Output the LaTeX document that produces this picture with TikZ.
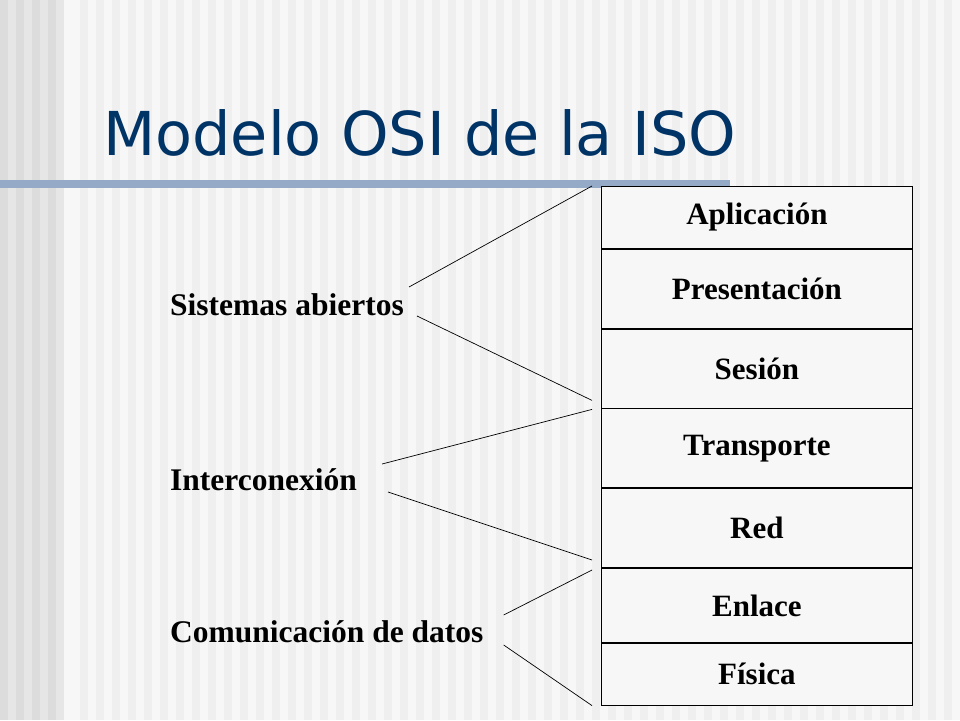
\documentclass[tikz,border=0pt]{standalone}
\usepackage{fontspec}
\setmainfont{Liberation Serif}
\newfontfamily\titlefont{DejaVu Sans}
\definecolor{stA}{HTML}{DCDCDC}
\definecolor{stB}{HTML}{E6E6E6}
\definecolor{stC}{HTML}{EFEFEF}
\definecolor{stD}{HTML}{F7F7F7}
\definecolor{titleblue}{HTML}{003366}
\definecolor{barblue}{HTML}{94AAC6}
\begin{document}
\begin{tikzpicture}[x=1pt,y=-1pt,
  layer/.style={draw=black,line width=0.8pt,fill=stD,minimum width=311pt,inner sep=0pt,font=\bfseries\fontsize{31}{34}\selectfont},
  grp/.style={anchor=west,inner sep=0pt,font=\bfseries\fontsize{31.5}{34}\selectfont},
  lnk/.style={line width=0.7pt}]
\useasboundingbox (0,0) rectangle (960,720);
\fill[stD] (0,0) rectangle (960,720);
\foreach \i in {0,16,...,56} {\fill[stA] (\i,0) rectangle (\i+8,720); \fill[stB] (\i+8,0) rectangle (\i+16,720);}
\foreach \i in {72,88,...,952} {\fill[stC] (\i+8,0) rectangle (\i+16,720);}
\fill[barblue] (0,180) rectangle (730,188);
\node[anchor=west,inner sep=0pt,text=titleblue,font=\titlefont\fontsize{60.5}{66}\selectfont] (title) at (103,133) {Modelo OSI de la ISO};
\node[layer,minimum height=62pt,anchor=north west] (apl) at (601,186) {Aplicación};
\node[layer,minimum height=79pt,anchor=north] (pre) at (apl.south) {Presentación};
\node[layer,minimum height=79pt,anchor=north] (ses) at (pre.south) {Sesión};
\node[layer,minimum height=79pt,anchor=north] (tra) at (ses.south) {Transporte};
\node[layer,minimum height=79pt,anchor=north] (red) at (tra.south) {Red};
\node[layer,minimum height=74pt,anchor=north] (enl) at (red.south) {Enlace};
\node[layer,minimum height=62pt,anchor=north] (fis) at (enl.south) {Física};
\node[grp] (sis) at (170,305) {Sistemas abiertos};
\node[grp] (int) at (170,480) {Interconexión};
\node[grp] (com) at (170,632) {Comunicación de datos};
\coordinate (a1) at ([xshift=-9pt]apl.north west);
\coordinate (a2) at ([xshift=-9pt,yshift=8pt]ses.south west);
\coordinate (b1) at ([xshift=-9pt,yshift=-1pt]ses.south west);
\coordinate (b2) at ([xshift=-9pt,yshift=8pt]red.south west);
\coordinate (c1) at ([xshift=-9pt,yshift=-2pt]red.south west);
\coordinate (c2) at ([xshift=-9pt]fis.south west);
\draw[lnk] ([xshift=5pt,yshift=18pt]sis.east) -- (a1);
\draw[lnk] ([xshift=13pt,yshift=-11pt]sis.east) -- (a2);
\draw[lnk] ([xshift=25pt,yshift=16pt]int.east) -- (b1);
\draw[lnk] ([xshift=31pt,yshift=-12pt]int.east) -- (b2);
\draw[lnk] ([xshift=20pt,yshift=17pt]com.east) -- (c1);
\draw[lnk] ([xshift=20pt,yshift=-13pt]com.east) -- (c2);
\end{tikzpicture}
\end{document}
